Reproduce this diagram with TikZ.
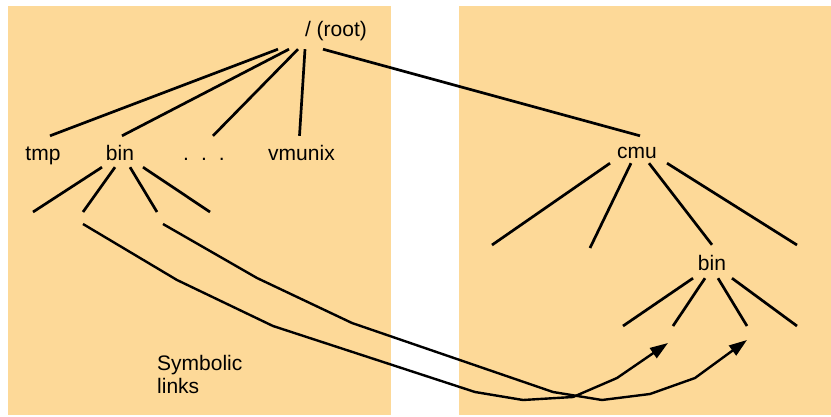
\documentclass[tikz,border=0pt]{standalone}
\usepackage{fontspec}
\setmainfont{Liberation Sans}
\usetikzlibrary{calc,arrows.meta}
\definecolor{panel}{RGB}{253,217,152}
\begin{document}
\begin{tikzpicture}[x=1pt, y=-1pt,
        lbl/.style={font=\fontsize{21}{25}\selectfont, inner sep=0pt, text height=15pt, text depth=5pt, anchor=base},
        edge/.style={line width=2.7pt},
        link/.style={line width=2.4pt, line join=round, -{Triangle[length=18pt, width=12pt]}}]
    \useasboundingbox (0,0) rectangle (831,416);
    \fill[panel] (8,6) rectangle (391,415);
    \fill[panel] (459,6) rectangle (831,415);
    % labels
    \node[lbl] (root) at (336,36.5) {/ (root)};
    \node[lbl] (tmp) at (43,160) {tmp};
    \node[lbl] (binL) at (120,160) {bin};
    \node[lbl] (dots) at (204,160) {.\hspace{12pt}.\hspace{12pt}.};
    \node[lbl] (vmunix) at (301.5,160) {vmunix};
    \node[lbl] (cmu) at (637,158) {cmu};
    \node[lbl] (binR) at (712,270) {bin};
    \node[font=\fontsize{21}{23.5}\selectfont, inner sep=0pt, anchor=north west, align=left] (note) at (157,355) {Symbolic\\links};
    % tree
    \foreach \dx/\n/\ex/\ey in {-58/tmp/7/-9, -47/binL/2/-9, -38/dots/9/-9, -31/vmunix/-2/-9, -13/cmu/3/-7}
        \draw[edge] ($(root.south)+(\dx,7.5)$) -- ($(\n.north)+(\ex,\ey)$);
    \foreach \dx/\x [count=\i] in {-18/33, -5/83, 10/157, 23/210} {
        \coordinate (leafL\i) at (\x,212);
        \draw[edge] ($(binL.south)+(\dx,2)$) -- (leafL\i);
    }
    \foreach \dx/\x/\y [count=\i] in {-27/492/245, -6/590/248, 30/797/245} {
        \coordinate (leafC\i) at (\x,\y);
        \draw[edge] ($(cmu.south)+(\dx,0)$) -- (leafC\i);
    }
    \draw[edge] ($(cmu.south)+(12,0)$) -- ($(binR.north)+(0,-10)$);
    \foreach \dx/\x [count=\i] in {-19/623, -7/673, 6/747, 20/797} {
        \coordinate (leafR\i) at (\x,326);
        \draw[edge] ($(binR.south)+(\dx,3)$) -- (leafR\i);
    }
    % symbolic links
    \coordinate (srcA) at (83,224);
    \coordinate (dstA) at (668,343);
    \coordinate (srcB) at (163,224);
    \coordinate (dstB) at (747,340);
    \draw[link] (srcA) -- (177,280) -- (273,326) -- (475,392) -- (523,400) -- (573,397) -- (617,378) -- (dstA);
    \draw[link] (srcB) -- (257,278) -- (352,323) -- (553,392) -- (602,400) -- (650,394) -- (695,378) -- (dstB);
\end{tikzpicture}
\end{document}
